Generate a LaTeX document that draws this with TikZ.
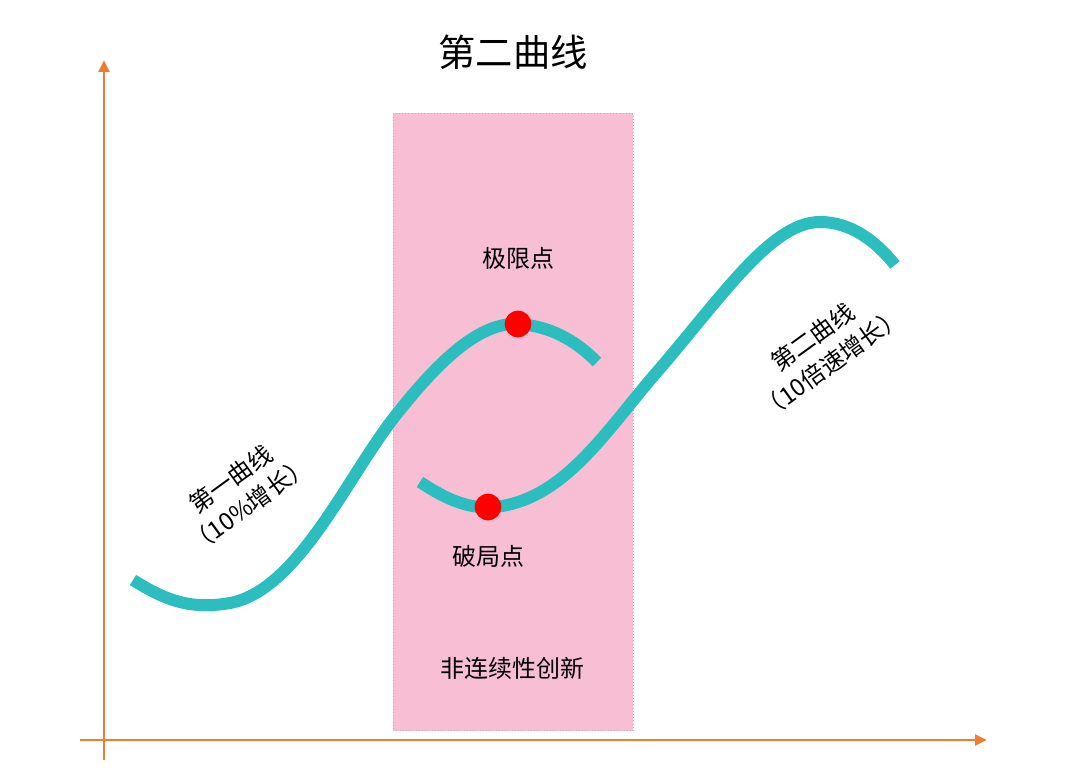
\documentclass[tikz,border=0pt]{standalone}
\usepackage{fontspec}
\setmainfont{Noto Sans CJK SC}
\usetikzlibrary{arrows.meta}
\definecolor{axc}{RGB}{237,125,49}
\definecolor{pinkc}{RGB}{247,190,212}
\definecolor{tealc}{RGB}{44,190,190}
\tikzset{axis/.style={draw=axc,line width=2.2pt,-{Triangle[length=9pt,width=8pt]}},
curve/.style={draw=tealc,line width=9pt},
dot/.style={circle,fill=red,minimum size=20pt,inner sep=0pt},
lbl/.style={font=\fontsize{18}{24}\selectfont,align=center}}
\begin{document}
\begin{tikzpicture}[x=0.75pt,y=-0.75pt]
\useasboundingbox (0,0) rectangle (1080,773);
\node[draw=gray!60,dotted,fill=pinkc,minimum width=180pt,minimum height=463pt,anchor=north west,inner sep=0pt] (box) at (393,113) {};
\coordinate (ys) at (104,760); \coordinate (ye) at (104,60);
\coordinate (xs) at (80,740); \coordinate (xe) at (987,740);
\draw[axis] (ys) -- (ye);
\draw[axis] (xs) -- (xe);
\draw[curve] (133,580) .. controls (165,600) and (190,610) .. (230,603)
 .. controls (300,590) and (350,470) .. (400,410)
 .. controls (440,360) and (480,322) .. (518,324)
 .. controls (550,326) and (575,340) .. (597,362);
\draw[curve] (420,482) .. controls (440,495) and (465,510) .. (495,507)
 .. controls (560,500) and (600,440) .. (650,380)
 .. controls (720,300) and (770,222) .. (820,222)
 .. controls (850,222) and (875,240) .. (895,265);
\node[dot] (p1) at (518,324) {};
\node[dot] (p2) at (488,507) {};
\node[lbl] (t1) at (518,258) {极限点};
\node[lbl] (t2) at (488,556) {破局点};
\node[lbl] (t3) at (512,668) {非连续性创新};
\node[font=\fontsize{28}{32}\selectfont] (title) at (513,52) {第二曲线};
\node[lbl,rotate=36,align=center] (c1) at (240,492) {第一曲线\\（10\%增长）};
\node[lbl,rotate=36,align=center] (c2) at (822,350) {第二曲线\\（10倍速增长）};
\end{tikzpicture}
\end{document}
